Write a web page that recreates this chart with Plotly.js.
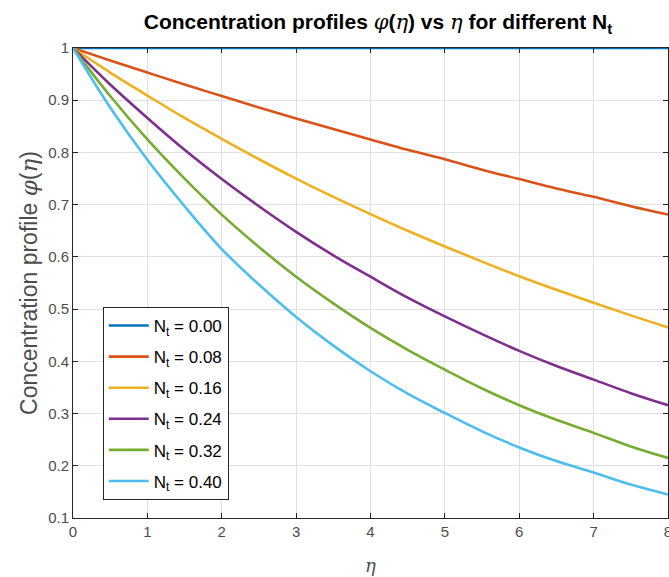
<!DOCTYPE html>
<html>
<head>
<meta charset="utf-8">
<script src="https://cdn.plot.ly/plotly-3.0.1.min.js"></script>
<style>html,body{margin:0;padding:0;background:#fff;}#chart{width:669px;height:577px;}</style>
</head>
<body>
<div id="chart"></div>
<script>
const eta = [0, 0.5, 1, 1.5, 2, 2.5, 3, 3.5, 4, 4.5, 5, 5.5, 6, 6.5, 7, 7.5, 8];
const labels = ["0.00", "0.08", "0.16", "0.24", "0.32", "0.40"];
const phi_000 = [1, 1, 1, 1, 1, 1, 1, 1, 1, 1, 1, 1, 1, 1, 1, 1, 1];
const phi_008 = [1, 0.976, 0.953, 0.930, 0.908, 0.886, 0.865, 0.845, 0.825, 0.805, 0.787, 0.767, 0.749, 0.731, 0.715, 0.697, 0.681];
const phi_016 = [1, 0.953, 0.909, 0.866, 0.826, 0.787, 0.750, 0.715, 0.682, 0.650, 0.620, 0.591, 0.563, 0.537, 0.512, 0.488, 0.465];
const phi_024 = [1, 0.930, 0.866, 0.805, 0.749, 0.697, 0.648, 0.603, 0.562, 0.522, 0.486, 0.452, 0.420, 0.391, 0.365, 0.339, 0.316];
const phi_032 = [1, 0.908, 0.825, 0.750, 0.681, 0.619, 0.562, 0.511, 0.464, 0.422, 0.384, 0.348, 0.316, 0.288, 0.263, 0.237, 0.215];
const phi_040 = [1, 0.886, 0.786, 0.697, 0.615, 0.547, 0.485, 0.430, 0.381, 0.338, 0.301, 0.266, 0.235, 0.209, 0.187, 0.164, 0.145];
const series = [phi_000, phi_008, phi_016, phi_024, phi_032, phi_040];
const colors = ["#0072BD", "#D95319", "#EDB120", "#7E2F8E", "#77AC30", "#4DBEEE"];
const xTicks = [0, 1, 2, 3, 4, 5, 6, 7, 8];
const yTicks = [0.1, 0.2, 0.3, 0.4, 0.5, 0.6, 0.7, 0.8, 0.9, 1];
const yTickText = ["0.1", "0.2", "0.3", "0.4", "0.5", "0.6", "0.7", "0.8", "0.9", "1"];

const traces = series.map((ys, i) => ({
  x: eta, y: ys, type: "scatter", mode: "lines",
  name: "N<sub>t</sub> = " + labels[i],
  legendgroup: "g" + i,
  line: {color: colors[i], width: 2.6, shape: "spline"}
}));

const serif = "font-family:'DejaVu Serif','Liberation Serif',serif;font-style:italic;font-weight:normal";
const layout = {
  width: 669, height: 577,
  margin: {l: 73, r: 1, t: 48, b: 59},
  paper_bgcolor: "#ffffff", plot_bgcolor: "#ffffff",
  font: {family: "Liberation Sans, Arial, sans-serif", color: "#262626", size: 15},
  title: {
    text: "<b>Concentration profiles <span style=\"" + serif + "\">φ</span>(<span style=\"" + serif + "\">η</span>) vs <span style=\"" + serif + "\">η</span> for different N<sub>t</sub></b>",
    x: 0.565, xanchor: "center", y: 0.962, yanchor: "middle",
    font: {size: 21, color: "#000000"}
  },
  xaxis: {
    range: [0, 8.0005], tickvals: xTicks, ticktext: xTicks.map(String),
    ticks: "inside", ticklen: 5, tickcolor: "#262626",
    showline: true, linecolor: "#262626", linewidth: 1, mirror: "ticks",
    showgrid: true, gridcolor: "#e0e0e0", gridwidth: 1, zeroline: false,
    ticklabeloverflow: "allow",
    tickfont: {size: 15, color: "#4d4d4d"},
    title: {text: "<i style=\"font-family:'DejaVu Serif',serif\">η</i>", font: {size: 18, color: "#4d4d4d"}, standoff: 20}
  },
  yaxis: {
    range: [0.1, 1], tickvals: yTicks, ticktext: yTickText,
    ticks: "inside", ticklen: 5, tickcolor: "#262626",
    showline: true, linecolor: "#262626", linewidth: 1, mirror: "ticks",
    showgrid: true, gridcolor: "#e0e0e0", gridwidth: 1, zeroline: false,
    tickfont: {size: 15, color: "#4d4d4d"},
    title: {text: "Concentration profile <span style=\"" + serif + "\">φ</span>(<span style=\"" + serif + "\">η</span>)", font: {size: 23, color: "#4d4d4d"}, standoff: 4}
  },
  showlegend: true,
  legend: {
    x: 0.05, y: 0.449, xanchor: "left", yanchor: "top",
    bgcolor: "#ffffff", bordercolor: "#262626", borderwidth: 1,
    font: {size: 17, color: "#000000"}, tracegroupgap: 6, itemwidth: 40
  }
};

Plotly.newPlot("chart", traces, layout, {displayModeBar: false, staticPlot: true});
</script>
</body>
</html>
